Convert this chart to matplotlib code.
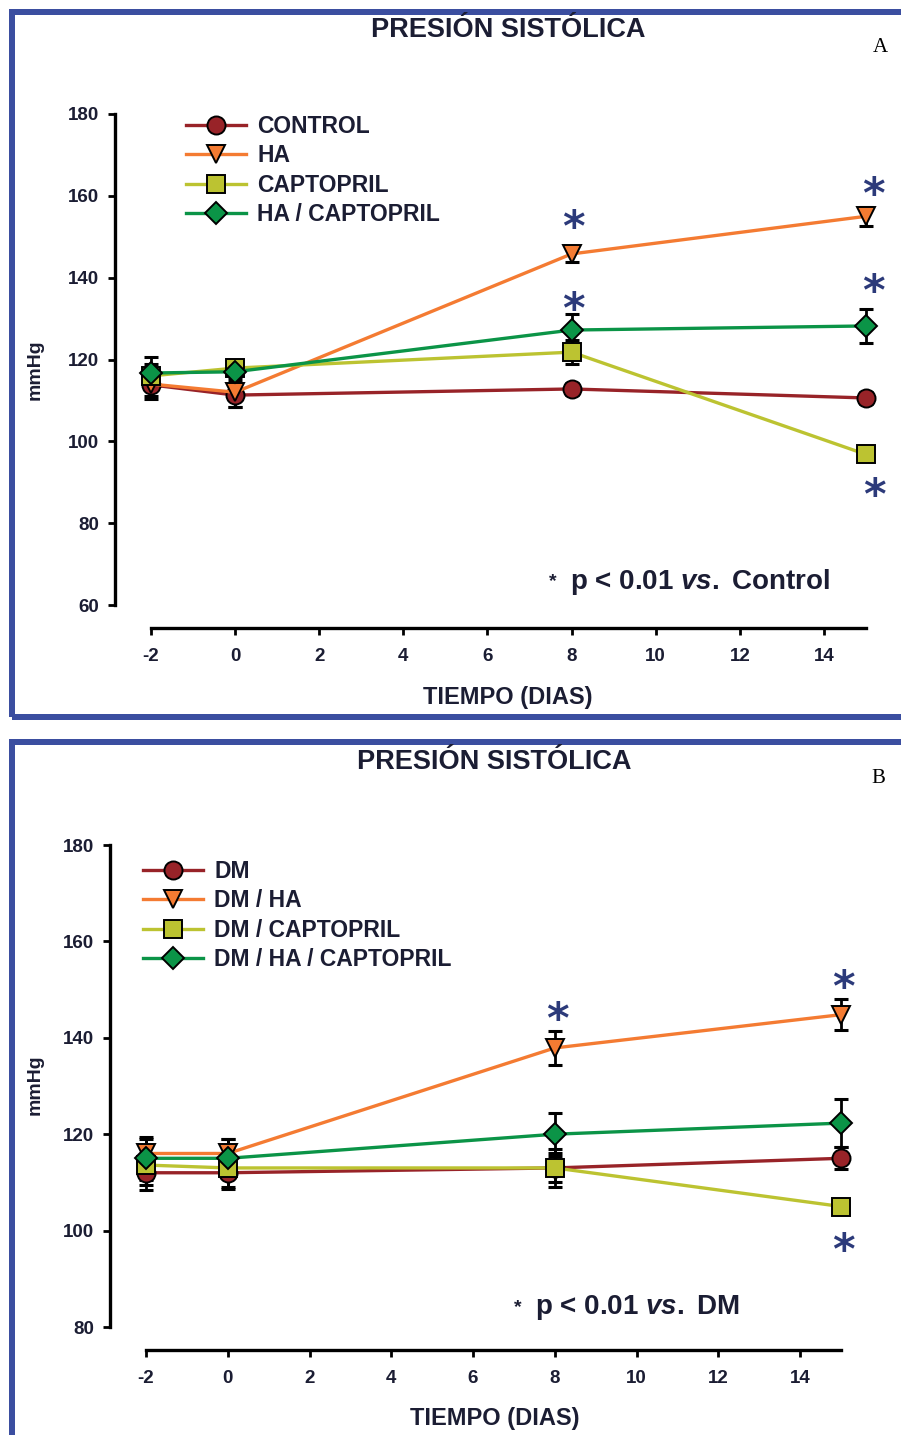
"""Systolic pressure time course for the HA / captopril groups (A) and the
diabetic groups (B)."""

import matplotlib.pyplot as plt
from matplotlib.patches import Rectangle

plt.rcParams["font.family"] = ["Liberation Sans", "DejaVu Sans"]
plt.rcParams["font.weight"] = "bold"
plt.rcParams["axes.unicode_minus"] = False
plt.rcParams["mathtext.fontset"] = "custom"
plt.rcParams["mathtext.rm"] = "Liberation Sans:bold"
plt.rcParams["mathtext.it"] = "Liberation Sans:bold:italic"

W, H = 901, 1435

DAYS = [-2, 0, 8, 15]
X_TICKS = [-2, 0, 2, 4, 6, 8, 10, 12, 14]

# ── Panel A ─────────────────────────────────────────────
A_LABELS = ["CONTROL", "HA", "CAPTOPRIL", "HA / CAPTOPRIL"]
A_MEAN = [
    [113.8, 111.3, 112.8, 110.6],
    [114.0, 112.0, 145.8, 155.0],
    [116.0, 117.9, 121.8, 96.8],
    [116.7, 117.0, 127.2, 128.2],
]
A_SEM = [
    [3.5, 3.0, 1.5, 1.5],
    [3.0, 3.7, 2.0, 2.3],
    [3.0, 2.0, 3.0, 1.5],
    [4.0, 2.0, 4.0, 4.2],
]
# (series index, day index, x / y offset in px; negative y = below)
A_STARS = [(1, 2, 2, 36), (3, 2, 2, 30), (1, 3, 7, 31), (3, 3, 7, 44), (2, 3, 8, -32)]
A_Y_TICKS = [60, 80, 100, 120, 140, 160, 180]

# ── Panel B ─────────────────────────────────────────────
B_LABELS = ["DM", "DM / HA", "DM / CAPTOPRIL", "DM / HA / CAPTOPRIL"]
B_MEAN = [
    [112.0, 112.0, 113.0, 115.0],
    [116.0, 116.0, 137.9, 144.8],
    [113.6, 113.0, 113.0, 105.0],
    [115.0, 115.0, 120.0, 122.3],
]
B_SEM = [
    [3.5, 3.0, 3.0, 2.3],
    [3.0, 3.0, 3.5, 3.2],
    [4.2, 4.4, 4.0, 1.5],
    [4.4, 4.0, 4.5, 5.0],
]
B_STARS = [(1, 2, 3, 38), (1, 3, 2, 37), (2, 3, 2, -34)]
B_Y_TICKS = [80, 100, 120, 140, 160, 180]

COLORS = ["#982328", "#f47b32", "#bcc331", "#0b9447"]
MARKERS = ["o", "v", "s", "D"]
MSIZES = [13, 13, 13, 11.5]
FRAME = "#3b4ea0"
INK = "#1b1d33"
STAR = "#2c3a7a"
STAR_RISE = 11  # px the '*' glyph sits above its text centre


def px_axes(fig, left, top, right, bottom):
    return fig.add_axes([left / W, 1 - bottom / H, (right - left) / W, (bottom - top) / H])


def pts(px):
    return px * 72 / 100


def draw_panel(fig, ax, labels, means, sems, stars, yticks, note, legend_xy):
    for i in range(len(labels)):
        ax.errorbar(DAYS, means[i], yerr=sems[i], fmt="none", ecolor="black",
                    elinewidth=2, capsize=pts(7), capthick=2.2, zorder=2,
                    clip_on=False)
    for i, lab in enumerate(labels):
        ax.plot(DAYS, means[i], color=COLORS[i], lw=2.4, marker=MARKERS[i],
                ms=MSIZES[i], mfc=COLORS[i], mec="black", mew=1.4,
                label=lab, zorder=3 + i, clip_on=False)

    for si, di, dx, dy in stars:
        ax.annotate("*", (DAYS[di], means[si][di]),
                    xytext=(pts(dx), pts(dy - STAR_RISE)),
                    textcoords="offset points", ha="center", va="center",
                    fontsize=31, color=STAR, family="DejaVu Sans",
                    fontweight="bold", zorder=10)

    ax.set_ylim(yticks[0], yticks[-1])
    ax.set_yticks(yticks)
    ax.set_xticks(X_TICKS)
    for s in ("top", "right"):
        ax.spines[s].set_visible(False)
    ax.spines["left"].set_bounds(yticks[0], yticks[-1])
    ax.spines["bottom"].set_bounds(-2, 15)
    ax.spines["bottom"].set_position(("outward", pts(23)))
    for s in ("left", "bottom"):
        ax.spines[s].set_linewidth(2.4)
    ax.tick_params(axis="both", direction="out", length=pts(7), width=2,
                   labelsize=13.5, labelcolor=INK)
    ax.tick_params(axis="y", pad=pts(9))
    ax.tick_params(axis="x", pad=pts(13))
    for t in ax.get_xticklabels() + ax.get_yticklabels():
        t.set_fontweight("bold")

    leg = ax.legend(loc="upper left", bbox_to_anchor=(legend_xy[0] / W, 1 - legend_xy[1] / H),
                    bbox_transform=fig.transFigure, frameon=False, fontsize=16.5,
                    numpoints=1, handlelength=2.6, handletextpad=0.5,
                    labelspacing=0.28, borderpad=0, borderaxespad=0)
    for t in leg.get_texts():
        t.set_color(INK)

    ax.text(note[0], note[1], "*", transform=ax.transAxes, fontsize=14,
            color=INK, ha="left", va="center")
    ax.text(note[0] + 0.028, note[1], r"p < 0.01 $\mathit{vs.}$ " + note[2],
            transform=ax.transAxes, fontsize=20, color=INK, ha="left",
            va="center")


def main() -> None:
    fig = plt.figure(figsize=(W / 100, H / 100), dpi=100)

    # blue frames round each panel
    for top, bottom in ((12, 717), (742, 1442)):
        fig.patches.append(Rectangle((12 / W, 1 - bottom / H), 900 / W, (bottom - top) / H,
                                     transform=fig.transFigure, fill=False,
                                     edgecolor=FRAME, lw=pts(6)))

    ax_a = px_axes(fig, 115, 114, 870, 605)
    ax_a.set_xlim(-2.856, 15.095)
    draw_panel(fig, ax_a, A_LABELS, A_MEAN, A_SEM, A_STARS, A_Y_TICKS,
               (0.575, 0.047, "Control"), (186, 115))

    ax_b = px_axes(fig, 110, 845, 845, 1327)
    ax_b.set_xlim(-2.88, 15.098)
    draw_panel(fig, ax_b, B_LABELS, B_MEAN, B_SEM, B_STARS, B_Y_TICKS,
               (0.55, 0.04, "DM"), (143, 860))

    # titles, panel letters, axis labels
    for (tx, ty), letter, (lx, ly) in (((508, 30), "A", (880, 47)),
                                        ((494, 762), "B", (878, 778))):
        fig.text(tx / W, 1 - ty / H, "PRESIÓN SISTÓLICA", ha="center",
                 va="center", fontsize=19.5, color=INK)
        fig.text(lx / W, 1 - ly / H, letter, ha="center", va="center",
                 fontsize=15, family="Liberation Serif", fontweight="normal")

    for x, y in ((508, 697), (495, 1418)):
        fig.text(x / W, 1 - y / H, "TIEMPO (DIAS)", ha="center", va="center",
                 fontsize=17, color=INK)
    for y in (370, 1085):
        fig.text(35 / W, 1 - y / H, "mmHg", rotation=90, ha="center",
                 va="center", fontsize=14, color=INK)

    fig.savefig("out.png", dpi=100)


if __name__ == "__main__":
    main()
